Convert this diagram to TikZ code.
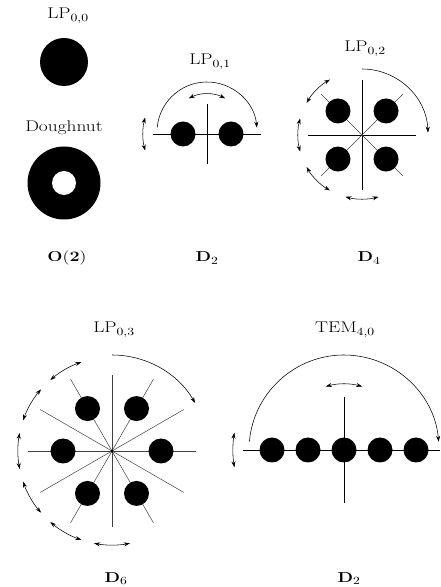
\documentclass[tikz,border=0pt]{standalone}
\usepackage{graphicx}
\usetikzlibrary{arrows.meta}
\newcommand{\wtxt}[1]{\scalebox{1.25}[1]{#1}}
\begin{document}
\begin{tikzpicture}[x=1pt,y=1pt,
  disk/.style={circle,fill=black,draw=none,inner sep=0pt,minimum size=25pt},
  axis/.style={line width=0.9pt,black},
  thinaxis/.style={line width=0.5pt,black!75},
  rot/.style={line width=0.55pt,-{Stealth[length=6pt,width=4pt]}},
  refl/.style={line width=0.55pt,{Stealth[length=6pt,width=4pt]}-{Stealth[length=6pt,width=4pt]}},
  lbl/.style={font=\fontsize{15.5}{18}\selectfont,anchor=base,inner sep=0pt}]
\useasboundingbox (0,0) rectangle (440,587);
% ---------- labels (y = 587 - pixel baseline)
\node[lbl] (t00) at (68,568) {\wtxt{LP$_{0,0}$}};
\node[lbl] (tdn) at (64,455) {\wtxt{Doughnut}};
\node[lbl] (go2) at (67,325) {\wtxt{$\mathbf{O(2)}$}};
\node[lbl] (t01) at (210,522) {\wtxt{LP$_{0,1}$}};
\node[lbl] (gd2) at (207,325) {\wtxt{$\mathbf{D}_2$}};
\node[lbl] (t02) at (365,535) {\wtxt{LP$_{0,2}$}};
\node[lbl] (gd4) at (369,325) {\wtxt{$\mathbf{D}_4$}};
\node[lbl] (t03) at (114,254) {\wtxt{LP$_{0,3}$}};
\node[lbl] (gd6) at (116,5) {\wtxt{$\mathbf{D}_6$}};
\node[lbl] (t40) at (345,254) {\wtxt{TEM$_{4,0}$}};
\node[lbl] (gdb) at (349,5) {\wtxt{$\mathbf{D}_2$}};
% ---------- panel 1
\node[disk,minimum size=48pt] (lp00) at (64,525) {};
\node[disk,minimum size=73pt] (dn) at (64,404) {};
\node[circle,fill=white,inner sep=0pt,minimum size=24pt] (dnh) at (dn.center) {};
% ---------- panel 2 : LP01
\begin{scope}[shift={(207,453)}]
  \coordinate (c2) at (0,0);
  \draw[axis] (-54,0) -- (54,0);
  \draw[axis] (0,30) -- (0,-30);
  \node[disk] (a1) at (-24,0) {};
  \node[disk] (a2) at (24,0) {};
  \draw[rot] (175:50) ++(0,2) arc[start angle=175,end angle=5,radius=50];
  \draw[refl] (117:40) arc[start angle=117,end angle=63,radius=40];
  \draw[refl] (165:64) arc[start angle=165,end angle=195,radius=64];
\end{scope}
% ---------- panel 3 : LP02
\begin{scope}[shift={(362,452)}]
  \draw[axis] (-54,0) -- (54,0);
  \draw[axis] (0,55) -- (0,-55);
  \draw[thinaxis] (135:58) -- (-45:58);
  \draw[thinaxis] (45:58) -- (225:58);
  \foreach \a [count=\i] in {45,135,225,315} \node[disk] (b\i) at (\a:34) {};
  \draw[rot] (90:66) arc[start angle=90,end angle=2,radius=66];
  \foreach \m in {135,180,225,270}
    \draw[refl] (\m-15:64) arc[start angle=\m-15,end angle=\m+15,radius=64];
\end{scope}
% ---------- panel 4 : LP03
\begin{scope}[shift={(112,136)}]
  \draw[thinaxis] (-84,0) -- (84,0);
  \draw[thinaxis] (0,76) -- (0,-76);
  \foreach \a in {30,60,120,150} \draw[thinaxis] (\a:83) -- (\a+180:83);
  \fill (0,0) circle (1.6);
  \foreach \a [count=\i] in {0,60,120,180,240,300} \node[disk] (d\i) at (\a:49) {};
  \draw[rot] (90:96) arc[start angle=90,end angle=30,radius=96];
  \foreach \m in {120,150,180,210,240,270}
    \draw[refl] (\m-11:94) arc[start angle=\m-11,end angle=\m+11,radius=94];
\end{scope}
% ---------- panel 5 : TEM40
\begin{scope}[shift={(344,137)}]
  \draw[axis] (-101,0) -- (96,0);
  \draw[axis] (0,53) -- (0,-53);
  \foreach \x [count=\i] in {-72,-36,0,36,72} \node[disk] (e\i) at (\x,0) {};
  \draw[rot] (175:95) arc[start angle=175,end angle=5,radius=95];
  \draw[refl] (106:66) arc[start angle=106,end angle=74,radius=66];
  \draw[refl] (171:111) arc[start angle=171,end angle=189,radius=111];
\end{scope}
\end{tikzpicture}
\end{document}
